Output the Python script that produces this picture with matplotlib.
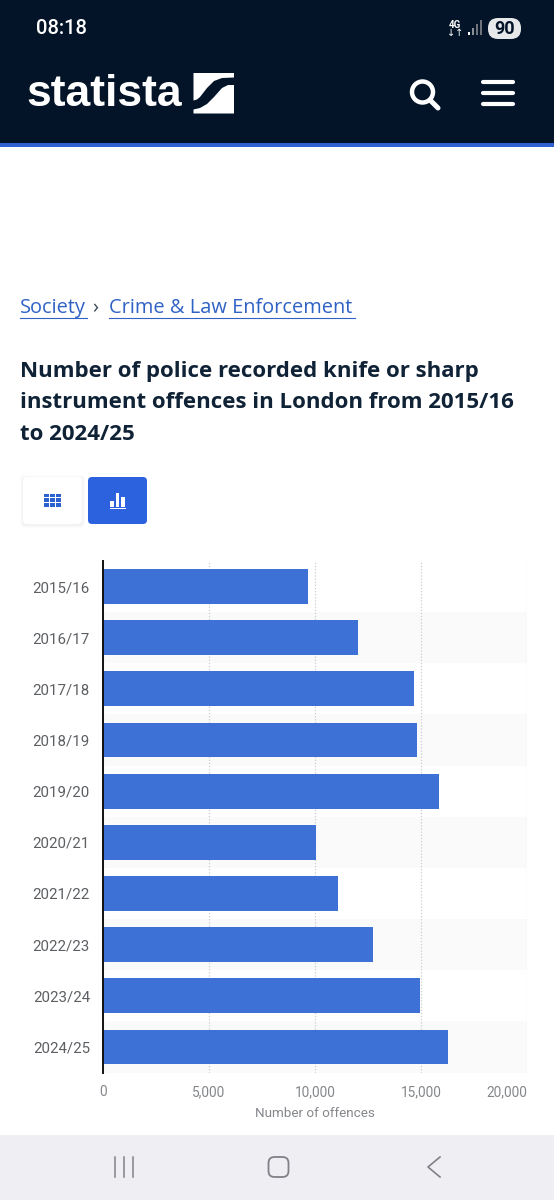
import matplotlib
matplotlib.use("Agg")
import matplotlib.pyplot as plt
from matplotlib.patches import Rectangle, FancyBboxPatch, Polygon, Circle
from matplotlib.lines import Line2D
import numpy as np

years = ["2015/16","2016/17","2017/18","2018/19","2019/20","2020/21","2021/22","2022/23","2023/24","2024/25"]
offences = [9680, 12030, 14650, 14830, 15850, 10050, 11080, 12750, 14960, 16270]
xticks = [0, 5000, 10000, 15000, 20000]
xlabel = "Number of offences"
title_lines = ["Number of police recorded knife or sharp",
               "instrument offences in London from 2015/16",
               "to 2024/25"]

W, H = 554, 1200
BLUE = "#3d71d5"
NAVY = "#031428"
fig = plt.figure(figsize=(W/100, H/100), dpi=100, facecolor="white")

# page overlay in pixel coordinates (y down)
pg = fig.add_axes([0, 0, 1, 1], zorder=0)
pg.set_xlim(0, W); pg.set_ylim(H, 0); pg.axis("off")

pg.add_patch(Rectangle((0, 0), W, 143, color=NAVY, lw=0))
pg.add_patch(Rectangle((0, 143), W, 4, color="#2f62d0", lw=0))
pg.add_patch(Rectangle((0, 1135), W, 65, color="#eeeef3", lw=0))

pg.text(36, 29, "08:18", color="white", fontsize=14.6, family="Roboto", va="center", ha="left", fontweight="medium")
pg.text(455, 24.5, "4G", color="white", fontsize=7, family="Roboto", fontweight="bold", va="center", ha="center")
pg.text(455, 33, "↓↑", color="white", fontsize=7, family="DejaVu Sans", va="center", ha="center")
for i, (h, c) in enumerate(zip([3, 7, 11, 15], ["#ffffff", "#8a8f98", "#6d727b", "#6d727b"])):
    pg.add_patch(Rectangle((468 + i*4, 35 - h), 1.8, h, color=c, lw=0))
pg.add_patch(FancyBboxPatch((488, 18), 33, 21, boxstyle="round,pad=0,rounding_size=10", color="#e6e8ea", lw=0))
pg.text(504.5, 29, "90", color=NAVY, fontsize=13, family="Roboto", fontweight="bold", va="center", ha="center")

pg.text(26, 95, "statista", color="white", fontsize=32, family="Liberation Sans", fontweight="bold",
        va="center", ha="left")
# logo square: two white pieces separated by a dark S-shaped band
pg.add_patch(Polygon([(193.5, 73), (234, 73), (234, 77.5), (222, 78), (214, 81), (207, 88), (200, 97), (197, 99.5), (193.5, 100.5)],
                     color="white", lw=0))
pg.add_patch(Polygon([(234, 85), (234, 113.5), (193.5, 113.5), (193.5, 109.5), (200, 108), (207, 104), (214, 97), (222, 88), (228, 85)],
                     color="white", lw=0))

# search icon
pg.add_patch(Circle((422.5, 92), 10.5, fill=False, ec="white", lw=3.2))
pg.add_line(Line2D([430, 438], [100, 108], color="white", lw=3.6, solid_capstyle="round"))
for y in (82, 93, 104):
    pg.add_line(Line2D([483, 513], [y, y], color="white", lw=3, solid_capstyle="round"))

# breadcrumb
link = "#2f62c4"
pg.text(20, 308, "Society", color=link, fontsize=14.4, family="Open Sans", va="center", ha="left")
pg.add_line(Line2D([20, 87], [317.5, 317.5], color=link, lw=0.8))
pg.text(92, 308, "›", color="#3a4654", fontsize=14.4, family="Open Sans", va="center", ha="left")
pg.text(109, 308, "Crime & Law Enforcement", color=link, fontsize=14.4, family="Open Sans", va="center", ha="left")
pg.add_line(Line2D([109, 355], [317.5, 317.5], color=link, lw=0.8))

# title
for i, line in enumerate(title_lines):
    pg.text(20, 372 + i*31, line, color="#0f2236", fontsize=16, family="Open Sans", fontweight="bold", va="center", ha="left")

# toggle buttons
for off, a in ((3, .012), (2, .015), (1, .02)):
    pg.add_patch(FancyBboxPatch((23-off, 477-off+1), 59+2*off, 47+2*off, boxstyle="round,pad=0,rounding_size=4",
                                color="black", alpha=a, lw=0))
pg.add_patch(FancyBboxPatch((23, 477), 59, 47, boxstyle="round,pad=0,rounding_size=4", color="white", lw=0))
pg.add_patch(FancyBboxPatch((88, 477), 59, 47, boxstyle="round,pad=0,rounding_size=4", color="#2c62de", lw=0))
for r in range(3):
    for c in range(3):
        pg.add_patch(Rectangle((44.3 + c*5.8, 493.5 + r*4.7), 4.9, 3.8, color="#2c62d0", lw=0))
for x0, y0 in ((110, 501), (115.5, 492.5), (121, 497)):
    pg.add_patch(Rectangle((x0, y0), 3.8, 506.5 - y0, color="white", lw=0))
pg.add_patch(Rectangle((109.5, 507.5), 16, 1.6, color="white", lw=0))

# nav bar
for x in (115, 124, 133):
    pg.add_line(Line2D([x, x], [1157, 1177], color="#808086", lw=1.1))
pg.add_patch(FancyBboxPatch((268.5, 1157), 20, 20, boxstyle="round,pad=0,rounding_size=6", fill=False, ec="#808086", lw=1.3))
pg.add_line(Line2D([440, 428, 440], [1157, 1167, 1177], color="#808086", lw=1.2))

# chart
L, R, T, B = 103, 527, 561, 1072.5
ax = fig.add_axes([L/W, 1 - B/H, (R-L)/W, (B-T)/H], zorder=1)
ax.patch.set_alpha(0)
pos = np.arange(len(years))
ax.set_xlim(0, xticks[-1])
ax.set_ylim(len(years) - 0.5, -0.5)
for i in pos[1::2]:
    ax.axhspan(i - 0.5, i + 0.5, color="#fafafa", lw=0, zorder=0)
ax.xaxis.grid(True, color="#c9ccd0", lw=0.9, ls=(0, (1, 1.5)), zorder=1)
ax.set_axisbelow(True)
ax.barh(pos, offences, height=0.68, color=BLUE, zorder=2)
for s in ("top", "right", "bottom"):
    ax.spines[s].set_visible(False)
ax.spines["left"].set_color("#111111")
ax.spines["left"].set_linewidth(1.4)
ax.set_yticks(pos, years, family="Roboto", fontsize=10.8, color="#5c5f63")
ax.set_xticks(xticks, [f"{v:,}" for v in xticks], family="Roboto", fontsize=9.8, color="#84878b")
ax.tick_params(axis="both", length=0)
ax.tick_params(axis="y", pad=9.4)
ax.tick_params(axis="x", pad=9)
tl = ax.get_xticklabels()
tl[-1].set_ha("right")
ax.set_xlabel(xlabel, family="Roboto", fontsize=9.7, color="#84878b", labelpad=6)

fig.savefig("out.png", dpi=100, facecolor="white")
